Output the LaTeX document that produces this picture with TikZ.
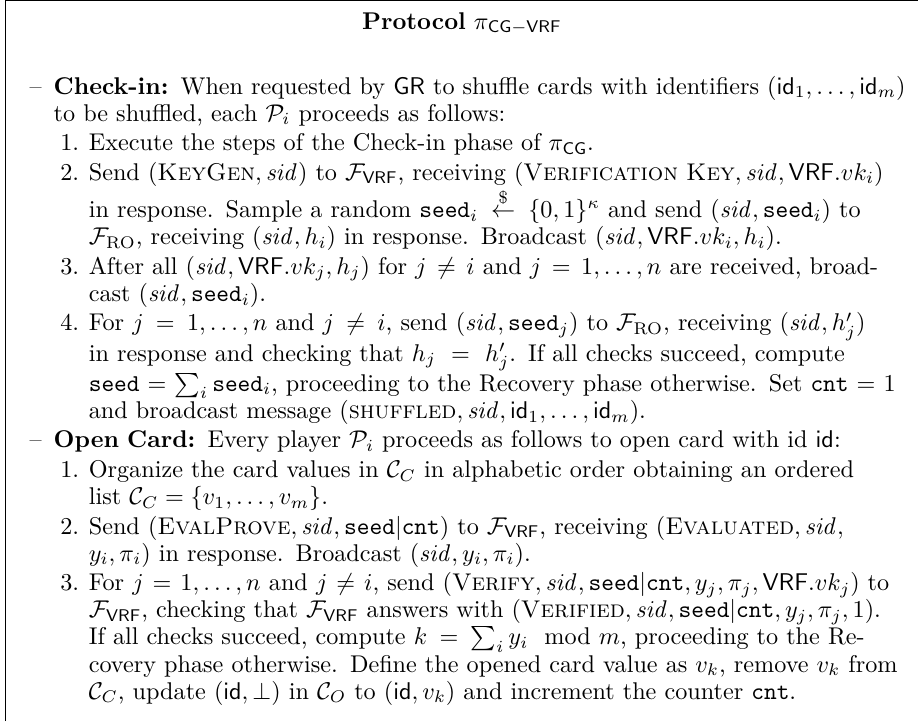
\documentclass[tikz,border=0pt]{standalone}
\usepackage{amsmath,amssymb}
\usetikzlibrary{positioning}

\newcommand{\sid}{\mathit{sid}}
\newcommand{\seedv}{\mathtt{seed}}
\newcommand{\cntv}{\mathtt{cnt}}
\newcommand{\idv}{\mathsf{id}}
\newcommand{\FVRF}{\mathcal{F}_{\mathsf{VRF}}}
\newcommand{\FRO}{\mathcal{F}_{\mathrm{RO}}}
% one phase of the protocol, and one numbered step inside it
\newcommand{\phaseitem}[2]{\par\leftskip=22pt\noindent\llap{--\hskip 5pt}\rule{0pt}{8pt}\textbf{#1} #2\par}
\newcommand{\stepitem}[2]{\par\leftskip=36.5pt\noindent\llap{#1.\hskip 4pt}#2\par}

\begin{document}
\begin{tikzpicture}[
    heading/.style={anchor=base, inner sep=0pt},
    body/.style={anchor=north west, inner sep=0pt, text width=374pt,
                 font=\fontsize{10}{11.2}\selectfont},
    frame/.style={line width=0.6pt}
]
\useasboundingbox (0,0) rectangle (379.3pt,-297.9pt);

% Frame
\coordinate (tl) at (2.3pt,-0.2pt);
\coordinate (tr) at (379.3pt,-0.2pt);
\coordinate (bl) at (2.3pt,-297.9pt);
\draw[frame] (bl) -- (tl) -- (tr);

% Title
\node[heading] (title) at (190.8pt,-12pt) {\textbf{Protocol} $\pi_{\mathsf{CG-VRF}}$};

% Body
\node[body] (steps) at (0,-26.5pt) {\parskip=1pt\hbadness=10000
\phaseitem{Check-in:}{When requested by $\mathsf{GR}$ to shuffle cards with identifiers $(\idv_1,\dots,\idv_m)$\linebreak to be shuffled, each $\mathcal{P}_i$ proceeds as follows:}
\stepitem{1}{Execute the steps of the Check-in phase of $\pi_{\mathsf{CG}}$.}
\stepitem{2}{Send $(\textsc{KeyGen},\sid)$ to $\FVRF$, receiving $(\textsc{Verification Key},\sid,\mathsf{VRF}.vk_i)$\linebreak in response. Sample a random $\seedv_i \stackrel{\$}{\leftarrow} \{0,1\}^\kappa$ and send $(\sid,\seedv_i)$ to\linebreak $\FRO$, receiving $(\sid,h_i)$ in response. Broadcast $(\sid,\mathsf{VRF}.vk_i,h_i)$.}
\stepitem{3}{After all $(\sid,\mathsf{VRF}.vk_j,h_j)$ for $j\neq i$ and $j=1,\dots,n$ are received, broad-\linebreak cast $(\sid,\seedv_i)$.}
\stepitem{4}{For $j=1,\dots,n$ and $j\neq i$, send $(\sid,\seedv_j)$ to $\FRO$, receiving $(\sid,h'_j)$\linebreak in response and checking that $h_j=h'_j$. If all checks succeed, compute\linebreak $\seedv=\sum_i\seedv_i$, proceeding to the Recovery phase otherwise. Set $\cntv=1$\linebreak and broadcast message $(\textsc{shuffled},\sid,\idv_1,\dots,\idv_m)$.}
\phaseitem{Open Card:}{Every player $\mathcal{P}_i$ proceeds as follows to open card with id $\idv$:}
\stepitem{1}{Organize the card values in $\mathcal{C}_C$ in alphabetic order obtaining an ordered\linebreak list $\mathcal{C}_C=\{v_1,\dots,v_m\}$.}
\stepitem{2}{Send $(\textsc{EvalProve},\sid,\seedv|\cntv)$ to $\FVRF$, receiving $(\textsc{Evaluated},\sid,$\linebreak $y_i,\pi_i)$ in response. Broadcast $(\sid,y_i,\pi_i)$.}
\stepitem{3}{For $j=1,\dots,n$ and $j\neq i$, send $(\textsc{Verify},\sid,\seedv|\cntv,y_j,\pi_j,\mathsf{VRF}.vk_j)$ to\linebreak $\FVRF$, checking that $\FVRF$ answers with $(\textsc{Verified},\sid,\seedv|\cntv,y_j,\pi_j,1)$.\linebreak If all checks succeed, compute $k=\sum_i y_i \mod m$, proceeding to the Re-\linebreak covery phase otherwise. Define the opened card value as $v_k$, remove $v_k$ from\linebreak $\mathcal{C}_C$, update $(\idv,\bot)$ in $\mathcal{C}_O$ to $(\idv,v_k)$ and increment the counter $\cntv$.}
};

\end{tikzpicture}
\end{document}
